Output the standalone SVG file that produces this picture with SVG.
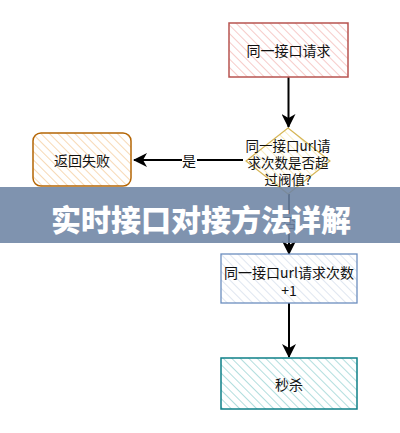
<svg xmlns="http://www.w3.org/2000/svg" width="400" height="433" viewBox="0 0 400 433">
<style>
.t{font-family:"Noto Sans CJK SC","Noto Sans",sans-serif;font-size:14px;fill:#111;text-anchor:middle;dominant-baseline:central}
.d{font-size:13.5px}
.e{stroke:#000;stroke-width:2;fill:none}
.title{font-family:"Noto Sans CJK SC","Noto Sans",sans-serif;font-size:30px;font-weight:900;fill:#fff;text-anchor:middle;dominant-baseline:central}
</style>
<defs>
<pattern id="hr" width="6" height="6" patternUnits="userSpaceOnUse" patternTransform="rotate(-45)"><rect width="6" height="6" fill="#fff"/><line x1="0" y1="0" x2="0" y2="6" stroke="#f3b5b2" stroke-width="1.4"/></pattern>
<pattern id="ho" width="6" height="6" patternUnits="userSpaceOnUse" patternTransform="rotate(-45)"><rect width="6" height="6" fill="#fff"/><line x1="0" y1="0" x2="0" y2="6" stroke="#f4c996" stroke-width="1.4"/></pattern>
<pattern id="hy" width="6" height="6" patternUnits="userSpaceOnUse" patternTransform="rotate(-45)"><rect width="6" height="6" fill="#fff"/><line x1="0" y1="0" x2="0" y2="6" stroke="#f7e6a6" stroke-width="1.4"/></pattern>
<pattern id="hb" width="6" height="6" patternUnits="userSpaceOnUse" patternTransform="rotate(-45)"><rect width="6" height="6" fill="#fff"/><line x1="0" y1="0" x2="0" y2="6" stroke="#d2dcea" stroke-width="1.4"/></pattern>
<pattern id="ht" width="6" height="6" patternUnits="userSpaceOnUse" patternTransform="rotate(-45)"><rect width="6" height="6" fill="#fff"/><line x1="0" y1="0" x2="0" y2="6" stroke="#9fd6d6" stroke-width="1.6"/></pattern>
<marker id="arb" markerWidth="14" markerHeight="14" refX="13" refY="7" orient="auto" markerUnits="userSpaceOnUse"><path d="M0,0 L14,7 L0,14 L4,7 Z" fill="#000"/></marker>
</defs>
<rect width="400" height="433" fill="#fff"/>
<g id="edges">
<line class="e" x1="288.5" y1="77" x2="288.5" y2="127" marker-end="url(#arb)"/>
<line class="e" x1="243" y1="160" x2="134" y2="160" marker-end="url(#arb)"/>
<rect x="182" y="151" width="15" height="18" fill="#fff"/>
<text class="t" x="189" y="160">是</text>
<line class="e" x1="289" y1="194" x2="289" y2="254" marker-end="url(#arb)"/>
<rect x="283" y="214" width="13" height="16" fill="#fff"/>
<text class="t" x="290" y="222" font-size="12">否</text>
<line class="e" x1="289" y1="303" x2="289" y2="357" marker-end="url(#arb)"/>
</g>
<g id="n1">
<rect x="229" y="23" width="119" height="54" fill="url(#hr)" stroke="#b85450" stroke-width="1.5"/>
<text class="t" x="288.5" y="50">同一接口请求</text>
</g>
<g id="n2">
<polygon points="288,128 330,161 288,194 246,161" fill="url(#hy)" stroke="#d6b656" stroke-width="1.2"/>
<text class="t d" x="288" y="145">同一接口url请</text>
<text class="t d" x="288" y="162">求次数是否超</text>
<text class="t d" x="288" y="179">过阀值?</text>
</g>
<g id="n3">
<rect x="33" y="133" width="98" height="53" rx="8" fill="url(#ho)" stroke="#b46504" stroke-width="1.5"/>
<text class="t" x="82" y="160">返回失败</text>
</g>
<g id="n4">
<rect x="221" y="254" width="136" height="49" fill="url(#hb)" stroke="#6c8ebf" stroke-width="1.3"/>
<text class="t" x="289" y="272">同一接口url请求次数</text>
<text class="t" x="289" y="290">+1</text>
</g>
<g id="n5">
<rect x="221" y="358" width="136" height="51" fill="url(#ht)" stroke="#0e8088" stroke-width="1.5"/>
<text class="t" x="289" y="384">秒杀</text>
</g>
<g id="banner">
<rect x="0" y="187" width="400" height="56" fill="#6d84a4" opacity="0.88"/>
<text class="title" x="201" y="218">实时接口对接方法详解</text>
</g>
</svg>
